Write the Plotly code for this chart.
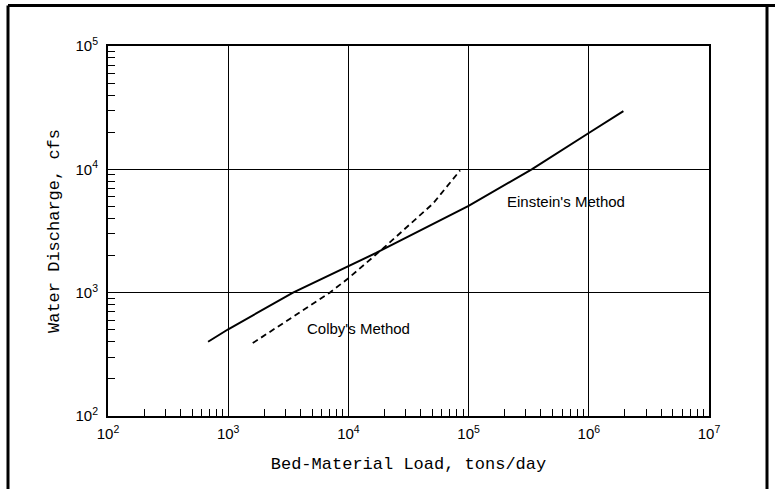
import plotly.graph_objects as go

# Bed-material load (tons/day) vs water discharge (cfs) for two methods
einstein_load = [680, 1000, 3460, 10000, 17000, 100000, 335000, 1000000, 1940000]
einstein_q = [400, 505, 1000, 1630, 2100, 5050, 10000, 19700, 29600]

colby_load = [1600, 7000, 10000, 19500, 50800, 85000]
colby_q = [390, 1000, 1310, 2290, 5300, 9800]

x_decades = [2, 3, 4, 5, 6, 7]
y_decades = [2, 3, 4, 5]
x_ticktext = [f"10<sup>{k}</sup>" for k in x_decades]
y_ticktext = [f"10<sup>{k}</sup>" for k in y_decades]

# plot-area geometry (pixels) used for margins and the outer frame
W, H = 775, 489
L, R, T, B = 108, 709, 46, 416

fig = go.Figure()

fig.add_trace(go.Scatter(
    x=einstein_load, y=einstein_q, mode="lines",
    line=dict(color="black", width=2), showlegend=False,
))
fig.add_trace(go.Scatter(
    x=colby_load, y=colby_q, mode="lines",
    line=dict(color="black", width=1.8, dash="6px,4px"), showlegend=False,
))

minor_x = [m * 10 ** k for k in range(2, 7) for m in range(2, 10)]
minor_y = [m * 10 ** k for k in range(2, 5) for m in range(2, 10)]

tick_font = dict(family="Liberation Sans, Arial, sans-serif", size=15, color="black")
title_font = dict(family="Liberation Mono, Courier New, monospace", size=17, color="black")

fig.update_xaxes(
    type="log", range=[2, 7],
    tickmode="array", tickvals=[10 ** k for k in x_decades], ticktext=x_ticktext,
    ticks="", tickfont=tick_font, ticklabelstandoff=3,
    showgrid=True, gridcolor="black", gridwidth=1.3,
    showline=True, linecolor="black", linewidth=2, mirror=True,
    zeroline=False,
    minor=dict(tickmode="array", tickvals=minor_x, ticks="inside",
               ticklen=7, tickwidth=1.2, tickcolor="black", showgrid=False),
    title=dict(text="Bed-Material Load, tons/day", font=title_font, standoff=16),
)
fig.update_yaxes(
    type="log", range=[2, 5],
    tickmode="array", tickvals=[10 ** k for k in y_decades], ticktext=y_ticktext,
    ticks="", tickfont=tick_font, ticklabelstandoff=5,
    showgrid=True, gridcolor="black", gridwidth=1.3,
    showline=True, linecolor="black", linewidth=2, mirror=True,
    zeroline=False,
    minor=dict(tickmode="array", tickvals=minor_y, ticks="inside",
               ticklen=7, tickwidth=1.2, tickcolor="black", showgrid=False),
    title=dict(text="Water Discharge, cfs", font=title_font, standoff=12),
)

label_font = dict(family="Liberation Sans, Arial, sans-serif", size=15, color="black")
fig.add_annotation(x=5.81, y=3.738, xref="x", yref="y", text="Einstein's Method",
                   showarrow=False, font=label_font)
fig.add_annotation(x=4.088, y=2.706, xref="x", yref="y", text="Colby's Method",
                   showarrow=False, font=label_font)

# outer frame drawn around the figure
pw, ph = R - L, B - T
def px(xp):
    return (xp - L) / pw
def py(yp):
    return (B - yp) / ph
frame = dict(color="black", width=3)
fig.add_shape(type="line", xref="paper", yref="paper",
              x0=px(8), y0=py(5.5), x1=px(775), y1=py(5.5), line=frame)
fig.add_shape(type="line", xref="paper", yref="paper",
              x0=px(8), y0=py(5.5), x1=px(8), y1=py(495), line=frame)
fig.add_shape(type="line", xref="paper", yref="paper",
              x0=px(767), y0=py(5.5), x1=px(767), y1=py(495), line=frame)

fig.update_layout(
    width=W, height=H,
    margin=dict(l=L, r=W - R, t=T, b=H - B, autoexpand=False),
    paper_bgcolor="white", plot_bgcolor="white",
    showlegend=False,
)

fig.write_html("out.html")
